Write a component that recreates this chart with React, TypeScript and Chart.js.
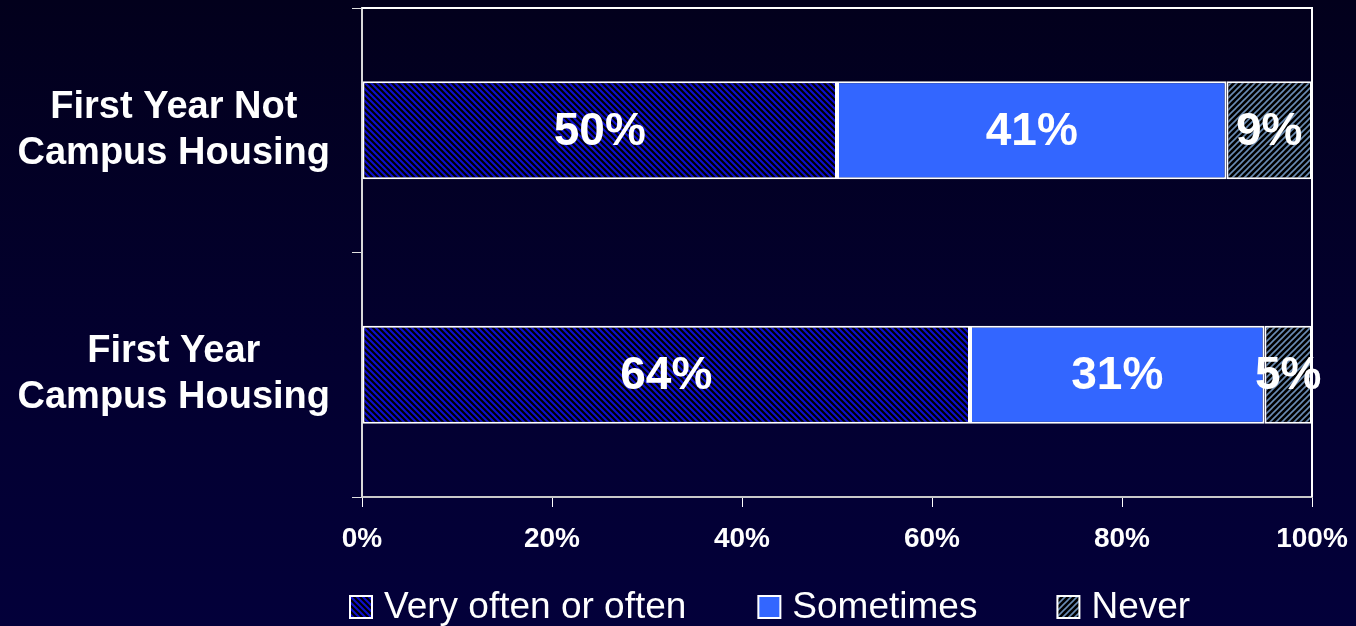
import React, { useEffect, useRef } from "react";
import { Chart, registerables } from "chart.js";

Chart.register(...registerables);

const categories: string[][] = [
  ["First Year Not", "Campus Housing"],
  ["First Year", "Campus Housing"],
];
const seriesNames = ["Very often or often", "Sometimes", "Never"];
const veryOften = [50, 64];
const sometimes = [41, 31];
const never = [9, 5];
const xTicks = [0, 20, 40, 60, 80, 100];

const FONT = '"Liberation Sans", Arial, Helvetica, sans-serif';

function makePattern(bg: string, fg: string, dir: "back" | "fwd", size: number, lw: number) {
  const c = document.createElement("canvas");
  c.width = size;
  c.height = size;
  const g = c.getContext("2d")!;
  g.fillStyle = bg;
  g.fillRect(0, 0, size, size);
  g.strokeStyle = fg;
  g.lineWidth = lw;
  g.beginPath();
  if (dir === "back") {
    g.moveTo(-size, -size); g.lineTo(size * 2, size * 2);
    g.moveTo(-size, 0); g.lineTo(size, size * 2);
    g.moveTo(0, -size); g.lineTo(size * 2, size);
  } else {
    g.moveTo(-size, size * 2); g.lineTo(size * 2, -size);
    g.moveTo(-size, size); g.lineTo(size, -size);
    g.moveTo(0, size * 2); g.lineTo(size * 2, 0);
  }
  g.stroke();
  return g.createPattern(c, "repeat")!;
}

export default function App() {
  const ref = useRef<HTMLCanvasElement | null>(null);

  useEffect(() => {
    const canvas = ref.current!;
    const ctx = canvas.getContext("2d")!;
    const patA = makePattern("#000000", "#0e0ecc", "back", 6, 2.1);
    const patC = makePattern("#000000", "#6a8cb4", "fwd", 6, 1.6);
    const fills: (CanvasPattern | string)[] = [patA, "#3366ff", patC];

    const borderPlugin = {
      id: "plotBorder",
      afterDraw(chart: any) {
        const { ctx: c, chartArea: a } = chart;
        c.save();
        c.strokeStyle = "#ffffff";
        c.lineWidth = 2;
        c.beginPath();
        c.moveTo(a.left, a.top);
        c.lineTo(a.right, a.top);
        c.lineTo(a.right, a.bottom);
        c.stroke();
        c.restore();
      },
    };

    const labelPlugin = {
      id: "valueLabels",
      afterDatasetsDraw(chart: any) {
        const c = chart.ctx;
        c.save();
        c.font = `bold 46px ${FONT}`;
        c.fillStyle = "#ffffff";
        c.textAlign = "center";
        c.textBaseline = "middle";
        chart.data.datasets.forEach((ds: any, di: number) => {
          const meta = chart.getDatasetMeta(di);
          meta.data.forEach((el: any, i: number) => {
            const p = el.getCenterPoint();
            c.fillText(ds.data[i] + "%", p.x, p.y + 2);
          });
        });
        c.restore();
      },
    };

    const legendGaps = [72, 80];
    const legendPlugin = {
      id: "customLegend",
      afterDraw(chart: any) {
        const c = chart.ctx;
        c.save();
        c.font = `37px ${FONT}`;
        c.textBaseline = "middle";
        c.textAlign = "left";
        let x = 350;
        const yMid = 607;
        const box = 22;
        chart.data.datasets.forEach((ds: any, i: number) => {
          c.fillStyle = ds.backgroundColor;
          c.fillRect(x, yMid - box / 2, box, box);
          c.strokeStyle = "#ffffff";
          c.lineWidth = 2;
          c.strokeRect(x, yMid - box / 2, box, box);
          c.fillStyle = "#ffffff";
          const tx = x + box + 12;
          c.fillText(ds.label, tx, yMid + 1);
          x = tx + c.measureText(ds.label).width + (legendGaps[i] || 76);
        });
        c.restore();
      },
    };

    const chart = new Chart(ctx, {
      type: "bar",
      data: {
        labels: categories as any,
        datasets: [
          { label: seriesNames[0], data: veryOften, backgroundColor: fills[0] as any },
          { label: seriesNames[1], data: sometimes, backgroundColor: fills[1] as any },
          { label: seriesNames[2], data: never, backgroundColor: fills[2] as any },
        ].map((d) => ({
          ...d,
          borderColor: "#ffffff",
          borderWidth: 2,
          borderSkipped: false,
          barPercentage: 0.4,
          categoryPercentage: 1,
        })),
      },
      options: {
        indexAxis: "y",
        animation: false,
        responsive: false,
        layout: { padding: { top: 8, right: 44, bottom: 59, left: 0 } },
        plugins: {
          legend: { display: false },
          tooltip: { enabled: false },
        },
        scales: {
          x: {
            stacked: true,
            min: 0,
            max: 100,
            afterBuildTicks(axis: any) {
              axis.ticks = xTicks.map((v) => ({ value: v }));
            },
            afterFit(axis: any) {
              axis.height = 70;
              axis.paddingLeft = 0;
              axis.paddingRight = 0;
            },
            ticks: {
              color: "#ffffff",
              font: { family: FONT, size: 28, weight: "bold" },
              padding: 15,
              autoSkip: false,
              maxRotation: 0,
              callback: (v: any) => v + "%",
            },
            grid: {
              drawOnChartArea: false,
              drawTicks: true,
              tickLength: 10,
              color: "#ffffff",
              lineWidth: 1,
            },
            border: { display: true, color: "#c8c8c8", width: 2 },
          },
          y: {
            stacked: true,
            afterFit(axis: any) {
              axis.width = 362;
              axis.paddingTop = 0;
              axis.paddingBottom = 0;
            },
            ticks: {
              color: "#ffffff",
              font: { family: FONT, size: 38, weight: "bold" },
              crossAlign: "center",
              padding: 22,
            },
            grid: {
              drawOnChartArea: false,
              drawTicks: true,
              tickLength: 10,
              color: "#e0e0e0",
              offset: true,
            },
            border: { display: true, color: "#d8d8d8", width: 2 },
          },
        },
      },
      plugins: [borderPlugin, labelPlugin, legendPlugin],
    } as any);

    return () => chart.destroy();
  }, []);

  return (
    <div
      style={{
        position: "fixed",
        left: 0,
        top: 0,
        width: 1356,
        height: 626,
        background: "linear-gradient(to bottom, #02001c 0%, #030030 60%, #03003a 100%)",
      }}
    >
      <canvas ref={ref} width={1356} height={626} style={{ display: "block" }} />
    </div>
  );
}
